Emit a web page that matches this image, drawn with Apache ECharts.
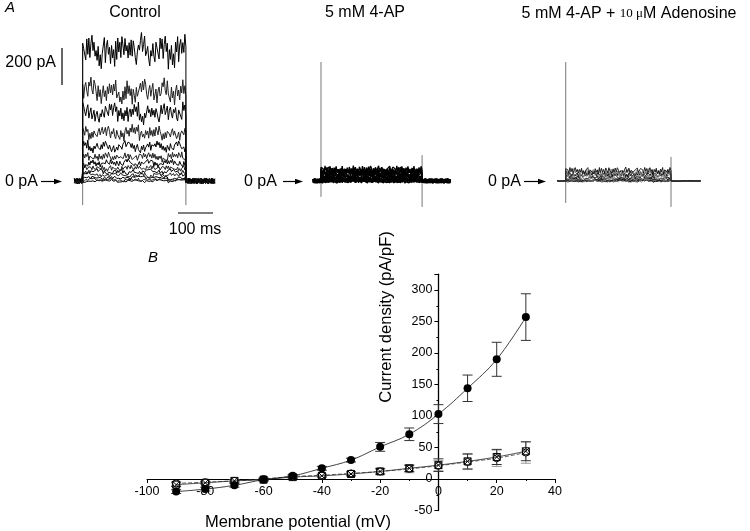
<!DOCTYPE html>
<html><head><meta charset="utf-8">
<script src="https://cdn.jsdelivr.net/npm/echarts@6/dist/echarts.min.js"></script>
<style>html,body{margin:0;padding:0;background:#fff}#c{width:750px;height:531px}</style>
</head><body><div id="c"></div>
<script>
// ---------- Panel B: I-V relation ----------
const voltages       = [-90,-80,-70,-60,-50,-40,-30,-20,-10,0,10,20,30];
const controlDensity = [-20,-16,-10,-1,5,17,30,51,71,103,144,190,257];
const controlErr     = [3,3,3,2,2,3,3,7,10,15,21,27,37];
const apDensity      = [-7,-5,-3,0,4,6,9,12,16,21,27,33,42];
const apErr          = [3,2,2,2,2,2,3,5,6,8,12,13,17];
const adoDensity     = [-9,-6,-3,-1,3,5,8,12,17,22,28,35,44];
const adoErr         = [3,2,2,2,2,2,3,4,5,10,12,12,15];
const xTickValues    = [-100,-80,-60,-40,-20,0,20,40];
const yTickValues    = [-50,0,50,100,150,200,250,300];
const yAxisTop       = 325;

// ---------- Panel A: current traces (pA), one level per voltage step ----------
const controlLevels = [0,5,16,32,49,70,97,130,184,259,367,481,705];
const apLevels      = [0,0,1,3,6,10,15,21,28,36,45,52,60];
const adoLevels     = [0,0,1,2,4,7,11,16,22,30,38,46,55];
// fast jitter and slow wander of the recorded traces (relative units)
const traceNoise = [0.3,-0.6,0.9,-0.2,0.5,-0.9,0.1,0.7,-0.4,0.2,-0.8,0.6,-0.1,0.9,-0.5,0.3,
  -0.7,0.4,-0.3,0.8,-1.0,0.2,0.6,-0.4,0.1,-0.6,0.7,-0.2,0.4,-0.8,1.0,-0.3,0.5,-0.5,0.2,-0.9,
  0.6,0.0,-0.7,0.8,-0.1,0.3,-0.6,0.5,-0.4,0.7,-0.2,0.9,0.4,-0.3,-0.8,0.1,0.6,-0.5,0.2,0.8,
  -0.6,-0.1,0.5,-0.9,0.3,0.7,-0.2,-0.7,0.4,0.0,0.9,-0.4,-0.8,0.6,0.2];
const traceWander = [0.2,-0.5,0.6,0.1,-0.3,0.8,-0.6,0.0,0.5,-0.8,0.3,0.7,-0.2,-0.7,0.4,0.9,-0.4,-0.1,0.6,-0.9];
// capacitive transients [bottom, top] in pA at pulse onset / offset
const controlOnset = [-130, 724], controlOffset = [-130, 60];
const apOnset      = [-86, 643],  apOffset      = [-140, 140];
const adoOnset     = [-119, 643], adoOffset     = [-140, 130];
const pulseStart = 0, pulseEnd = 300, traceStart = -24, traceEnd = 384, traceStep = 3;

function buildTraces(levels, ampBase, ampFrac, baseAmp, wanderWeight) {
  const N = traceNoise.length, M = traceWander.length;
  return levels.map((L, i) => {
    const pts = [];
    let j = i * 11;
    for (let t = traceStart; t <= traceEnd; t += traceStep) {
      const n = traceNoise[(j++) % N];
      const w = traceWander[(Math.floor((t + 24) / 21) + i * 3) % M];
      if (t === pulseStart) pts.push([t, n * baseAmp]);
      if (t >= pulseStart && t <= pulseEnd) pts.push([t, L + (ampBase + ampFrac * L) * (0.75 * n + wanderWeight * w)]);
      else pts.push([t, n * baseAmp]);
      if (t === pulseEnd) pts.push([t, traceNoise[j % N] * baseAmp]);
    }
    return pts;
  });
}

const panels = [
  {levels: controlLevels, noise: [9, 0.13, 16, 0.5], color: ['#000','#222'], width: 1.0, on: controlOnset, off: controlOffset,
   grid: {left: 74.4, width: 140.4}},
  {levels: apLevels, noise: [15, 0.3, 12, 0.1], color: ['#000','#000'], width: 1.3, on: apOnset, off: apOffset,
   grid: {left: 312.9, width: 137.5}},
  {levels: adoLevels, noise: [8, 0.35, 2, 0.2], color: ['#111','#777'], width: 0.9, on: adoOnset, off: adoOffset,
   grid: {left: 557.3, width: 143.2}}
];

const grids = [], xAxes = [], yAxes = [], series = [];
panels.forEach((p, k) => {
  grids.push({left: p.grid.left, width: p.grid.width, top: 33, height: 175.75});
  xAxes.push({type: 'value', gridIndex: k, min: traceStart, max: traceEnd, show: false});
  yAxes.push({type: 'value', gridIndex: k, min: -150, max: 800, show: false});
  buildTraces(p.levels, p.noise[0], p.noise[1], p.noise[2], p.noise[3]).forEach((d, i) => {
    series.push({type: 'line', xAxisIndex: k, yAxisIndex: k, data: d, symbol: 'none', silent: true,
      lineStyle: {color: p.color[i % 2], width: p.width}, z: 2});
  });
  series.push({type: 'line', xAxisIndex: k, yAxisIndex: k, symbol: 'none', silent: true,
    data: [[pulseStart, p.on[0]], [pulseStart, p.on[1]]], lineStyle: {color: '#555', width: 0.8}, z: 1});
  series.push({type: 'line', xAxisIndex: k, yAxisIndex: k, symbol: 'none', silent: true,
    data: [[pulseEnd, p.off[0]], [pulseEnd, p.off[1]]], lineStyle: {color: '#555', width: 0.8}, z: 1});
});

// Panel B grid; axes cross at (0, 0)
const gB = {left: 147, width: 408, top: 274.25, height: 236.25};
grids.push(gB);
const xMin = xTickValues[0], xMax = xTickValues[xTickValues.length - 1], yMin = yTickValues[0];
const yAxisShift = (0 - xMin) / (xMax - xMin) * gB.width;
const xAxisShift = (0 - yMin) / (yAxisTop - yMin) * gB.height;
const axisFont = 'Liberation Sans, Arial, sans-serif';
xAxes.push({type: 'value', gridIndex: 3, min: xMin, max: xMax, interval: 20, position: 'bottom', offset: -xAxisShift,
  axisLine: {onZero: false, lineStyle: {color: '#000', width: 1}},
  axisTick: {length: 4, lineStyle: {color: '#000'}},
  minorTick: {show: true, splitNumber: 2, length: 2, lineStyle: {color: '#000'}},
  splitLine: {show: false},
  axisLabel: {color: '#000', fontSize: 12.5, fontFamily: axisFont, margin: 6}});
yAxes.push({type: 'value', gridIndex: 3, min: yMin, max: yAxisTop, interval: 50, position: 'left', offset: -yAxisShift,
  axisLine: {show: true, onZero: false, lineStyle: {color: '#000', width: 1.3}},
  axisTick: {length: 4, lineStyle: {color: '#000'}},
  minorTick: {show: true, splitNumber: 2, length: 2, lineStyle: {color: '#000'}},
  splitLine: {show: false},
  axisLabel: {color: '#000', fontSize: 12.5, fontFamily: axisFont, margin: 6,
    formatter: v => yTickValues.indexOf(v) >= 0 ? String(v) : ''}});

function errSeries(dens, err, color) {
  return {type: 'custom', xAxisIndex: 3, yAxisIndex: 3, z: 3, silent: true,
    data: voltages.map((v, i) => [v, dens[i] - err[i], dens[i] + err[i]]),
    renderItem(params, api) {
      const x = api.value(0);
      const lo = api.coord([x, api.value(1)]);
      const hi = api.coord([x, api.value(2)]);
      const w = 5, st = {stroke: color, lineWidth: 1};
      return {type: 'group', children: [
        {type: 'line', shape: {x1: lo[0], y1: lo[1], x2: hi[0], y2: hi[1]}, style: st},
        {type: 'line', shape: {x1: lo[0]-w, y1: lo[1], x2: lo[0]+w, y2: lo[1]}, style: st},
        {type: 'line', shape: {x1: hi[0]-w, y1: hi[1], x2: hi[0]+w, y2: hi[1]}, style: st}
      ]};
    }};
}
series.push(errSeries(apDensity, apErr, '#999'));
series.push(errSeries(adoDensity, adoErr, '#333'));
series.push(errSeries(controlDensity, controlErr, '#333'));
series.push({type: 'line', xAxisIndex: 3, yAxisIndex: 3, smooth: 0.4, z: 5,
  data: voltages.map((v, i) => [v, apDensity[i]]),
  symbol: 'circle', symbolSize: 7,
  itemStyle: {color: '#fff', borderColor: '#000', borderWidth: 1},
  lineStyle: {color: '#444', width: 0.8, type: [4, 2]}});
series.push({type: 'line', xAxisIndex: 3, yAxisIndex: 3, smooth: 0.4, z: 6,
  data: voltages.map((v, i) => [v, adoDensity[i]]),
  symbol: 'path://M0,0L10,0L10,10L0,10Z M0,0L10,10 M10,0L0,10', symbolSize: 7,
  itemStyle: {color: 'transparent', borderColor: '#000', borderWidth: 1},
  lineStyle: {color: '#222', width: 0.8}});
series.push({type: 'line', xAxisIndex: 3, yAxisIndex: 3, smooth: 0.4, z: 7,
  data: voltages.map((v, i) => [v, controlDensity[i]]),
  symbol: 'circle', symbolSize: 8,
  itemStyle: {color: '#000'},
  lineStyle: {color: '#111', width: 0.8}});

// annotations
const F = '16px Liberation Sans, Arial, sans-serif';
function txt(text, x, y, align, font, extra) {
  return Object.assign({type: 'text', x: x, y: y, silent: true,
    style: {text: text, x: 0, y: 0, font: font || F, fill: '#000', textAlign: align || 'center', textVerticalAlign: 'middle'}}, extra || {});
}
function arrow(x1, x2, y) {
  return [{type: 'line', silent: true, shape: {x1: x1, y1: y, x2: x2 - 5, y2: y}, style: {stroke: '#000', lineWidth: 1.2}},
          {type: 'polygon', silent: true, shape: {points: [[x2 - 8, y - 2.8], [x2, y], [x2 - 8, y + 2.8]]}, style: {fill: '#000'}}];
}
const graphic = [
  txt('A', 5, 8, 'left', 'italic 15px Liberation Sans, Arial, sans-serif'),
  txt('B', 148, 258, 'left', 'italic 15px Liberation Sans, Arial, sans-serif'),
  txt('Control', 135, 13),
  txt('5 mM 4-AP', 365, 13),
  {type: 'text', x: 629, y: 14, silent: true, style: {
    text: '{a|5 mM 4-AP + }{b|10 \u03bc}{a|M Adenosine}', x: 0, y: 0, textAlign: 'center', textVerticalAlign: 'middle',
    rich: {a: {font: F, fill: '#000'}, b: {font: '13px Liberation Serif, Times New Roman, serif', fill: '#000'}}}},
  txt('0 pA', 5, 181.5, 'left'), ...arrow(41, 62, 181.5),
  txt('0 pA', 244, 181.5, 'left'), ...arrow(283, 303, 181.5),
  txt('0 pA', 488, 181.5, 'left'), ...arrow(524, 546, 181.5),
  {type: 'line', silent: true, shape: {x1: 62, y1: 48, x2: 62, y2: 85}, style: {stroke: '#000', lineWidth: 1.2}},
  txt('200 pA', 56, 63, 'right'),
  {type: 'line', silent: true, shape: {x1: 178, y1: 213, x2: 213, y2: 213}, style: {stroke: '#000', lineWidth: 1.2}},
  txt('100 ms', 195, 230),
  txt('Membrane potential (mV)', 298, 522, 'center', '16.5px Liberation Sans, Arial, sans-serif'),
  txt('Current density (pA/pF)', 386, 317, 'center', '16.5px Liberation Sans, Arial, sans-serif', {rotation: Math.PI / 2})
];

const chart = echarts.init(document.getElementById('c'), null, {renderer: 'canvas'});
chart.setOption({animation: false, backgroundColor: '#fff', grid: grids, xAxis: xAxes, yAxis: yAxes, series: series, graphic: graphic});
</script></body></html>
